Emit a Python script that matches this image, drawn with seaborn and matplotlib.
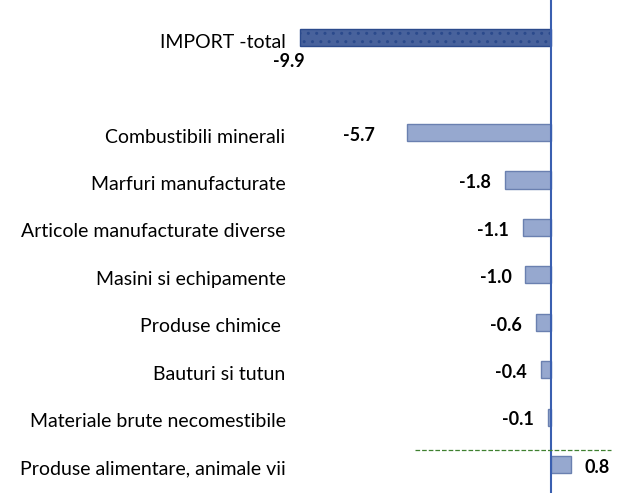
import matplotlib
matplotlib.use("Agg")
import matplotlib.pyplot as plt
import matplotlib.transforms as mtransforms
import seaborn as sns
import pandas as pd

categories = ["IMPORT -total", " ", "Combustibili minerali", "Marfuri manufacturate",
              "Articole manufacturate diverse", "Masini si echipamente", "Produse chimice ",
              "Bauturi si tutun", "Materiale brute necomestibile",
              "Produse alimentare, animale vii"]
values = [-9.9, None, -5.7, -1.8, -1.1, -1.0, -0.6, -0.4, -0.1, 0.8]

df = pd.DataFrame({"cat": categories, "val": values}).dropna()

sns.set_style("white")
plt.rcParams['font.family'] = ['Lato', 'DejaVu Sans']
plt.rcParams['hatch.color'] = "#C9D6F0"
plt.rcParams['text.color'] = "black"
plt.rcParams['ytick.color'] = "black"

fig = plt.figure(figsize=(6.19, 4.93), dpi=100)
ax = fig.add_axes([0.477, 0.0, 0.51, 1.0])

colors = ["#3A5DAA"] + ["#8DA5D8"] * (len(df) - 1)
sns.barplot(data=df, x="val", y="cat", order=categories, hue="cat",
            palette=colors, hue_order=list(df["cat"]), legend=False,
            width=0.36, orient="h", ax=ax, edgecolor="#6A80B0", linewidth=1)

# dotted texture on total bar
ax.patches[0].set_hatch("..")
ax.patches[0].set_edgecolor("#2B4A8C")

ax.set_xlim(-10.1, 2.38)
ax.set_ylim(9.6, -0.795)
ax.axvline(0, color="#3A5FB0", lw=1.5)
ax.plot([-5.35, 2.4], [8.69, 8.69], ls="--", color="#3F8030", lw=0.9, clip_on=False)

for s in ax.spines.values():
    s.set_visible(False)
ax.set_xticks([])
ax.set_xlabel("")
ax.set_ylabel("")
ax.tick_params(axis="y", length=0, pad=7, labelsize=14)

# labels sit a few pixels below bar centre, as in the original
shift = mtransforms.ScaledTranslation(0, -3 / 100, fig.dpi_scale_trans)
for lab in ax.get_yticklabels():
    lab.set_transform(lab.get_transform() + shift)

for i, (c, v) in enumerate(zip(categories, values)):
    if v is None:
        continue
    if i == 0:
        ax.annotate(f"{v:.1f}", (v, i), xytext=(-8, -17), textcoords="offset points",
                    ha="center", va="center", fontweight="bold", fontsize=13)
    elif v < 0:
        off = -23 if v < -5 else -10
        ax.annotate(f"{v:.1f}", (v, i), xytext=(off, -2), textcoords="offset points",
                    ha="right", va="center", fontweight="bold", fontsize=13)
    else:
        ax.annotate(f"{v:.1f}", (v, i), xytext=(10, -2), textcoords="offset points",
                    ha="left", va="center", fontweight="bold", fontsize=13)

fig.savefig("out.png", dpi=100)
